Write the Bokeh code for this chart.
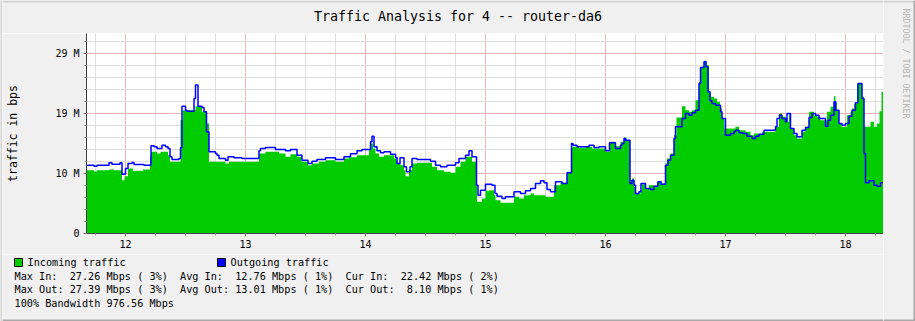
import math
from bokeh.plotting import figure
from bokeh.layouts import column, row
from bokeh.models import FixedTicker, Range1d
from bokeh.core.properties import value
from bokeh.embed import file_html
from bokeh.resources import INLINE

# time axis: hours since the 11th, 00:00 ; values in Mbit/s
IN_T = [16.2, 17.7, 18.3, 20.7, 21.7, 23.3, 23.8, 24.5, 25.5, 27.5,
        28.9, 29.1, 30.3, 31.0, 32.5, 32.9, 35.0, 35.5, 38.0, 39.3,
        40.2, 40.7, 44.0, 44.7, 50.7, 52.0, 54.7, 56.0, 57.0, 58.3,
        59.2, 60.5, 61.3, 62.7, 64.0, 66.0, 67.7, 68.7, 70.3, 72.7,
        73.0, 73.5, 74.0, 74.7, 75.7, 77.7, 78.3, 79.0, 79.7, 80.0,
        80.7, 81.3, 82.3, 85.3, 86.3, 87.7, 89.0, 90.0, 91.0, 92.0,
        93.3, 94.3, 95.3, 96.0, 96.7, 97.7, 98.0, 99.0, 101.7, 102.7,
        103.7, 105.0, 105.7, 108.0, 109.7, 111.0, 112.3, 113.2, 114.7, 116.0,
        117.3, 120.0, 120.8, 122.0, 123.0, 123.7, 124.2, 124.9, 125.3, 125.7,
        126.1, 127.0, 127.3, 128.0, 128.7, 129.7, 130.3, 131.3, 132.0, 132.3,
        133.0, 133.7, 134.2, 135.3, 136.0, 136.7, 137.3, 138.0, 138.7, 139.1,
        139.7, 140.2, 140.7, 141.1, 141.7, 142.3, 142.9, 143.3, 143.8, 146.0,
        146.7, 148.0, 149.0, 149.7, 150.7, 151.3, 154.0, 154.7, 155.3, 156.0,
        156.7, 157.0, 157.7, 158.3, 159.3, 160.0, 160.7, 161.7, 162.3, 163.0,
        164.3, 165.0, 165.7, 166.0, 166.3, 166.7, 167.2, 168.3, 169.0, 169.3,
        169.7, 170.3, 171.3, 171.7, 173.0, 173.7, 174.3, 174.8, 175.2, 175.6]
IN_V = [10.31, 10.09, 10.31, 10.42, 10.31, 8.68, 9.33, 10.58, 10.20, 10.42,
        12.48, 13.29, 13.02, 13.29, 12.75, 11.67, 18.45, 20.08, 20.73, 19.80,
        17.91, 11.67, 11.39, 11.67, 13.02, 13.29, 13.02, 12.48, 12.91, 12.48,
        11.67, 11.12, 11.39, 11.67, 11.94, 11.67, 12.21, 12.43, 12.75, 13.57,
        14.65, 13.84, 13.02, 12.48, 12.75, 12.21, 11.39, 11.12, 10.31, 9.33,
        10.31, 11.39, 11.50, 10.85, 10.31, 10.04, 9.88, 10.85, 11.67, 12.48,
        11.67, 5.15, 5.70, 6.95, 7.05, 6.24, 5.43, 4.99, 5.97, 5.70,
        6.24, 6.51, 6.24, 5.97, 7.87, 8.25, 10.04, 14.11, 13.94, 14.11,
        13.84, 13.29, 14.92, 14.22, 14.92, 15.63, 15.19, 8.68, 8.95, 7.60,
        6.51, 7.05, 8.03, 7.33, 7.87, 7.60, 8.41, 8.14, 11.39, 12.21,
        13.02, 16.01, 18.88, 20.73, 20.08, 19.80, 20.08, 21.70, 24.69, 27.13,
        28.11, 27.40, 23.06, 22.25, 21.97, 21.43, 20.35, 18.72, 17.09, 17.36,
        16.82, 16.55, 16.01, 16.28, 16.17, 16.55, 17.36, 19.53, 18.99, 18.18,
        19.53, 17.09, 16.01, 15.46, 16.55, 17.36, 19.80, 19.26, 18.99, 18.45,
        19.80, 20.62, 22.35, 21.43, 20.08, 17.91, 17.36, 19.26, 19.80, 20.35,
        21.16, 24.42, 22.25, 17.36, 18.18, 17.36, 17.91, 19.91, 23.06, 23.06]

OUT_T = [16.2, 17.7, 18.3, 20.7, 21.3, 22.9, 23.3, 24.0, 24.5, 25.3,
         25.7, 27.7, 29.1, 29.7, 30.3, 31.3, 32.0, 32.5, 32.9, 33.3,
         34.7, 35.0, 35.3, 36.0, 36.3, 37.7, 38.0, 38.5, 39.3, 39.7,
         40.2, 40.7, 42.0, 42.3, 42.7, 44.0, 44.5, 45.7, 47.3, 50.7,
         51.0, 52.0, 54.0, 56.0, 57.0, 58.3, 59.3, 60.5, 61.3, 62.3,
         64.0, 66.0, 67.7, 69.0, 70.3, 71.3, 73.0, 73.3, 73.7, 74.3,
         75.0, 75.7, 77.0, 78.0, 78.3, 78.9, 79.7, 80.2, 80.9, 81.3,
         82.3, 85.0, 86.0, 87.0, 88.3, 90.0, 90.7, 92.0, 92.7, 93.3,
         94.2, 94.5, 95.0, 96.0, 97.3, 97.9, 98.3, 99.3, 100.0, 101.7,
         103.0, 104.0, 105.0, 106.0, 107.0, 107.7, 108.3, 109.0, 110.0, 111.3,
         112.3, 113.2, 113.5, 114.3, 116.7, 117.7, 118.7, 120.0, 120.8, 122.0,
         123.0, 123.3, 123.7, 124.0, 124.9, 125.3, 125.7, 126.0, 126.7, 127.1,
         128.0, 129.0, 129.7, 130.5, 131.1, 132.0, 132.5, 133.0, 133.7, 134.0,
         135.3, 136.0, 136.7, 137.3, 138.0, 138.7, 139.0, 139.7, 140.1, 140.5,
         140.9, 141.3, 142.0, 143.0, 143.3, 144.0, 145.0, 145.7, 146.0, 146.7,
         147.5, 148.3, 149.3, 150.0, 150.7, 151.7, 154.0, 154.3, 154.8, 155.3,
         156.0, 156.3, 157.0, 157.7, 158.3, 159.3, 160.0, 160.7, 161.3, 162.0,
         162.7, 164.0, 164.5, 165.0, 165.7, 166.0, 166.7, 167.3, 168.0, 168.7,
         169.3, 170.0, 170.5, 171.3, 171.7, 172.0, 172.7, 173.7, 174.3, 175.0,
         175.6]
OUT_V = [11.12, 10.96, 11.12, 11.50, 11.29, 11.50, 9.66, 10.58, 11.39, 11.56,
         11.23, 11.12, 14.27, 14.11, 13.84, 14.38, 14.11, 13.84, 12.48, 12.05,
         12.21, 13.94, 20.73, 20.08, 19.91, 21.97, 24.15, 20.73, 20.51, 19.80,
         16.55, 13.29, 13.02, 12.75, 12.21, 11.94, 12.48, 12.32, 12.21, 13.46,
         13.84, 14.00, 13.67, 13.46, 13.67, 12.75, 11.94, 11.39, 11.77, 12.05,
         12.32, 12.05, 12.48, 12.97, 13.46, 13.67, 14.92, 15.84, 14.11, 13.46,
         13.13, 13.29, 12.91, 12.37, 11.39, 12.32, 10.85, 10.04, 10.85, 12.21,
         12.05, 11.77, 11.12, 10.85, 11.12, 11.50, 12.21, 12.75, 13.46, 12.48,
         7.87, 6.24, 7.05, 8.03, 7.87, 6.51, 6.08, 5.70, 5.97, 6.78,
         6.51, 6.95, 7.33, 8.14, 8.57, 8.25, 7.16, 6.78, 8.41, 8.14,
         9.88, 14.65, 14.38, 14.11, 14.38, 14.00, 14.11, 13.46, 14.76, 13.84,
         14.38, 14.65, 15.46, 15.19, 8.14, 8.68, 7.87, 6.51, 6.78, 8.14,
         7.33, 7.16, 7.70, 8.41, 8.03, 11.12, 11.94, 12.75, 15.46, 17.36,
         18.72, 19.53, 19.26, 19.64, 20.08, 24.42, 27.02, 27.94, 27.13, 23.06,
         21.60, 21.16, 20.89, 19.80, 18.72, 16.01, 16.28, 16.55, 16.82, 16.39,
         16.28, 15.84, 15.46, 15.84, 16.17, 16.82, 17.36, 18.72, 19.26, 18.72,
         18.18, 19.53, 17.09, 16.28, 15.74, 16.82, 17.25, 18.88, 19.53, 19.26,
         18.72, 17.47, 18.45, 19.26, 21.43, 20.08, 17.91, 17.63, 17.91, 19.10,
         20.08, 21.27, 24.42, 21.97, 13.02, 8.25, 8.57, 7.87, 7.70, 8.25,
         8.25]

DAY_TICKS = [24, 48, 72, 96, 120, 144, 168]
DAY_LABELS = ["12", "13", "14", "15", "16", "17", "18"]
X_MINOR = [h for h in range(18, 175, 6) if h % 24 != 0]
Y_TICKS = [0, 9.765625, 19.53125, 29.296875]
Y_LABELS = ["0", "10 M", "19 M", "29 M"]
Y_MINOR = [i * 1.953125 for i in range(17) if i % 5 != 0]

TITLE = "Traffic Analysis for 4 -- router-da6"
Y_TITLE = "traffic in bps"
LEGEND_IN = "Incoming traffic"
LEGEND_OUT = "Outgoing traffic"
STAT_ROWS = [
    [("Max In:", 0), ("27.26 Mbps ( 3%)", 9), ("Avg In:", 27), ("12.76 Mbps ( 1%)", 36),
     ("Cur In:", 54), ("22.42 Mbps ( 2%)", 63)],
    [("Max Out:", 0), ("27.39 Mbps ( 3%)", 9), ("Avg Out:", 27), ("13.01 Mbps ( 1%)", 36),
     ("Cur Out:", 54), ("8.10 Mbps ( 1%)", 64)],
    [("100% Bandwidth 976.56 Mbps", 0)],
]
WATERMARK = "RRDTOOL / TOBI OETIKER"

IN_COLOR = "#00cc00"
OUT_COLOR = "#0000ff"
BG = "#f0f0f0"
EDGE_LIGHT = "#d0d0d0"
EDGE_DARK = "#a8a8a8"
FONT = "DejaVu Sans Mono"

X0, X1 = 16.2, 175.6
Y_TOP = 32.552

W_EDGE, W_MID, W_RIGHT = 2, 881, 32
H_TOP, H_MAIN, H_BOT = 33, 221, 67
H_ALL = H_TOP + H_MAIN + H_BOT


def strip(w, h, x_start=0, bg=BG):
    f = figure(width=w, height=h, output_backend="svg", toolbar_location=None,
               x_range=Range1d(x_start, x_start + w), y_range=Range1d(h, 0),
               x_axis_location=None, y_axis_location=None,
               min_border=0, min_border_left=0, min_border_right=0,
               min_border_top=0, min_border_bottom=0, frame_align=False,
               background_fill_color=bg, border_fill_color=bg)
    f.outline_line_color = None
    f.grid.visible = False
    return f


# ---- left edge ---------------------------------------------------------
left_edge = strip(W_EDGE, H_ALL, bg=EDGE_LIGHT)

# ---- title strip (x data = canvas px) ----------------------------------
top = strip(W_MID, H_TOP, x_start=W_EDGE)
top.quad(left=[W_EDGE], right=[W_EDGE + W_MID], top=[0], bottom=[2],
         fill_color=EDGE_LIGHT, line_color=None)
top.text(x=[457.5], y=[15.5], text=[TITLE], text_font=value(FONT),
         text_font_size=value("13.3px"), text_align="center", text_baseline="middle",
         text_color="black")

# ---- main plot ---------------------------------------------------------
p = figure(width=W_MID, height=H_MAIN, output_backend="svg", toolbar_location=None,
           x_range=Range1d(X0, X1), y_range=Range1d(0, Y_TOP), frame_align=False,
           min_border_left=86 - W_EDGE, min_border_right=0, min_border_top=0,
           min_border_bottom=21, background_fill_color="white", border_fill_color=BG)
p.outline_line_color = None

p.varea_step(x=IN_T, y1=0, y2=IN_V, step_mode="after", fill_color=IN_COLOR, fill_alpha=1.0)
p.step(OUT_T, OUT_V, mode="after", line_color=OUT_COLOR, line_width=1.5)

xt = FixedTicker(ticks=DAY_TICKS, minor_ticks=X_MINOR)
yt = FixedTicker(ticks=Y_TICKS, minor_ticks=Y_MINOR)
xa = p.xaxis[0]
ya = p.yaxis[0]
xa.ticker = xt
ya.ticker = yt
p.xgrid[0].ticker = xt
p.ygrid[0].ticker = yt
xa.major_label_overrides = {t: l for t, l in zip(DAY_TICKS, DAY_LABELS)}
ya.major_label_overrides = {t: l for t, l in zip(Y_TICKS, Y_LABELS)}

for ax in (xa, ya):
    ax.axis_line_color = "#404040"
    ax.major_tick_line_color = "#808080"
    ax.minor_tick_line_color = "#a0a0a0"
    ax.major_tick_in = 0
    ax.minor_tick_in = 0
    ax.major_tick_out = 3
    ax.minor_tick_out = 2
    ax.major_label_text_font = FONT
    ax.major_label_text_font_size = "10px"
    ax.major_label_text_color = "black"
    ax.major_label_standoff = 4
xa.major_label_standoff = 3

ya.axis_label = Y_TITLE
ya.axis_label_text_font = FONT
ya.axis_label_text_font_size = "11.5px"
ya.axis_label_text_font_style = "normal"
ya.axis_label_text_color = "black"
ya.axis_label_standoff = 32

for g in (p.xgrid[0], p.ygrid[0]):
    g.grid_line_color = "#ecb4b4"
    g.grid_line_alpha = 1.0
    g.minor_grid_line_color = "#dedede"
    g.minor_grid_line_alpha = 1.0

# ---- legend / statistics strip (x data = canvas px) --------------------
bot = strip(W_MID, H_BOT, x_start=W_EDGE)
Y0 = H_TOP + H_MAIN  # canvas y of the strip's top edge
bot.quad(left=[W_EDGE], right=[W_EDGE + W_MID], top=[H_BOT - 2], bottom=[H_BOT],
         fill_color=EDGE_DARK, line_color=None)
bot.quad(left=[14, 217], right=[22, 225], top=[258 - Y0, 258 - Y0], bottom=[266 - Y0, 266 - Y0],
         fill_color=[IN_COLOR, OUT_COLOR], line_color="black", line_width=1)
bot.text(x=[27, 230], y=[261.5 - Y0, 261.5 - Y0], text=[LEGEND_IN, LEGEND_OUT],
         text_font=value(FONT), text_font_size=value("10.2px"), text_baseline="middle",
         text_color="black")
COL_W = 6.13
sx, sy, st = [], [], []
for r, segs in enumerate(STAT_ROWS):
    for txt, col in segs:
        sx.append(14 + col * COL_W)
        sy.append(275.5 + r * 13.6 - Y0)
        st.append(txt)
bot.text(x=sx, y=sy, text=st, text_font=value(FONT), text_font_size=value("10.2px"),
         text_baseline="middle", text_color="black")

# ---- right strip with vertical credit ----------------------------------
side = strip(W_RIGHT, H_ALL)
side.quad(left=[0], right=[W_RIGHT], top=[0], bottom=[2], fill_color=EDGE_LIGHT, line_color=None)
side.quad(left=[W_RIGHT - 2, 0], right=[W_RIGHT, W_RIGHT], top=[0, H_ALL - 2],
          bottom=[H_ALL, H_ALL], fill_color=EDGE_DARK, line_color=None)
side.text(x=[22], y=[8], text=[WATERMARK], angle=-math.pi / 2, text_font=value(FONT),
          text_font_size=value("8.3px"), text_align="left", text_baseline="middle",
          text_color="#b4b4b4")

layout = row(left_edge, column(top, p, bot, spacing=0), side, spacing=0)
open("out.html", "w").write(file_html(layout, INLINE))
